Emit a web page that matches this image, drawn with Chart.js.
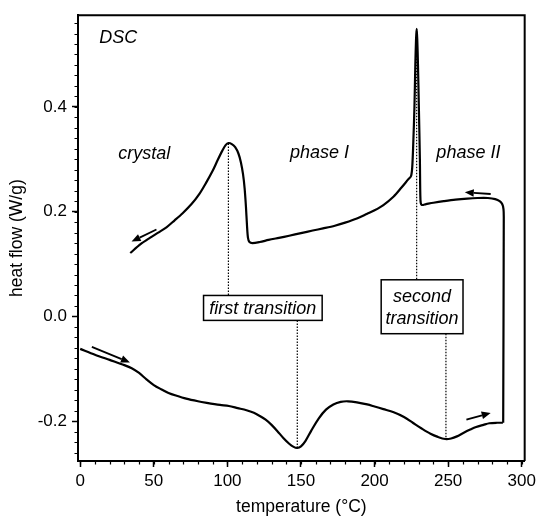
<!DOCTYPE html>
<html><head><meta charset="utf-8">
<script src="https://cdn.jsdelivr.net/npm/chart.js@4.4.0/dist/chart.umd.min.js"></script>
<style>html,body{margin:0;padding:0;background:#fff}#wrap{width:540px;height:516px}</style>
</head><body><div id="wrap"><canvas id="c" width="540" height="516"></canvas></div>
<script>
// heating run (°C, W/g)
const heatT = [0,10,20,30,35,40,45,50,55,60,65,72,80,86,95,101,107,113,118,122,126,130,134,138,142,145,147.5,150,153,157,162,167,172,177,182,188,195,200,206,213,220,226,232,238,243,248,252,256,260,265,269,274,278,283,287.2];
const heatF = [-0.062,-0.073,-0.083,-0.093,-0.099,-0.108,-0.120,-0.131,-0.139,-0.146,-0.151,-0.157,-0.162,-0.165,-0.169,-0.171,-0.175,-0.179,-0.184,-0.190,-0.197,-0.207,-0.219,-0.232,-0.243,-0.249,-0.251,-0.248,-0.238,-0.218,-0.195,-0.178,-0.168,-0.163,-0.162,-0.164,-0.168,-0.172,-0.177,-0.183,-0.192,-0.203,-0.214,-0.224,-0.230,-0.234,-0.233,-0.229,-0.223,-0.216,-0.211,-0.207,-0.204,-0.203,-0.203];
// cooling run (°C, W/g)
const coolT = [287.4,287.8,287.6,286.8,285,282,277,270,263,255,247,240,235,232,231.2,230.8,230.1,229.5,229.0,228.6,228.2,227.7,227.1,226.3,225.6,224.8,223,218,213,206,200,195,188,180,173,165,158,150,142,135,128,122,117,115,114,113.3,112.6,111.7,110.6,109.2,107.5,105.3,103,100.8,98.8,96.5,93.5,90,85.5,81,75.5,69.6,64,58.6,53,47.3,41,34];
const coolF = [-0.203,0.19,0.205,0.214,0.220,0.224,0.226,0.226,0.225,0.223,0.220,0.217,0.2145,0.213,0.222,0.30,0.40,0.48,0.53,0.549,0.53,0.48,0.40,0.33,0.285,0.268,0.262,0.245,0.229,0.2125,0.2025,0.196,0.187,0.179,0.173,0.168,0.164,0.159,0.154,0.150,0.146,0.142,0.140,0.142,0.150,0.175,0.21,0.245,0.272,0.294,0.311,0.323,0.329,0.331,0.327,0.316,0.299,0.278,0.255,0.234,0.214,0.197,0.183,0.170,0.160,0.150,0.138,0.121];
// axis ticks
const xTicks = [0,50,100,150,200,250,300];
const xMinorTicks = [0,10,20,30,40,50,60,70,80,90,100,110,120,130,140,150,160,170,180,190,200,210,220,230,240,250,260,270,280,290,300];
const yTicks = [-0.2,0,0.2,0.4];
const yMinorTicks = [-0.26,-0.24,-0.22,-0.2,-0.18,-0.16,-0.14,-0.12,-0.1,-0.08,-0.06,-0.04,-0.02,0,0.02,0.04,0.06,0.08,0.1,0.12,0.14,0.16,0.18,0.2,0.22,0.24,0.26,0.28,0.3,0.32,0.34,0.36,0.38,0.4,0.42,0.44,0.46,0.48,0.5,0.52,0.54,0.56];
// dotted drop lines at transitions
const dropX = [100.7,147.5,228.6,248.5];
const dropTop = [0.33,-0.0076,0.549,-0.033];
const dropBottom = [0.040,-0.251,0.0699,-0.234];
// free labels
const labelText = ['DSC','crystal','phase I','phase II'];
const labelX = [13,25.9,142.6,242];
const labelY = [0.522,0.300,0.303,0.303];
// boxed labels
const boxLines = [['first transition'],['second','transition']];
const boxX1 = [83.8,204.5], boxX2 = [164.4,260.1];
const boxY1 = [0.040,0.0699], boxY2 = [-0.0076,-0.033];
// arrows
const arrowX1 = [7.9,51.8,278.9,262.4], arrowY1 = [-0.058,0.166,0.2337,-0.1968];
const arrowX2 = [33.8,34.9,261.3,278.9], arrowY2 = [-0.088,0.143,0.2368,-0.1842];

const FAM = "'Liberation Sans', Arial, Helvetica, sans-serif";
const pts = (xs, ys) => xs.map((x,i)=>({x:x, y:ys[i]}));

const decor = {
  id:'decor',
  afterDatasetsDraw(chart){
    const c = chart.ctx, xs = chart.scales.x, ys = chart.scales.y, a = chart.chartArea;
    c.save();
    // frame top/right
    c.strokeStyle='#000'; c.lineWidth=2;
    c.beginPath(); c.moveTo(a.left, a.top); c.lineTo(a.right, a.top); c.lineTo(a.right, a.bottom); c.stroke();
    // minor ticks
    c.lineWidth=1.2;
    c.beginPath();
    xMinorTicks.forEach(v=>{const p=Math.round(xs.getPixelForValue(v))+0.5; c.moveTo(p,a.bottom); c.lineTo(p,a.bottom+3.5);});
    yMinorTicks.forEach(v=>{const p=Math.round(ys.getPixelForValue(v))+0.5; c.moveTo(a.left,p); c.lineTo(a.left-3.5,p);});
    c.stroke();
    // labels
    c.fillStyle='#000';
    c.font='italic 18px '+FAM;
    c.textBaseline='alphabetic'; c.textAlign='left';
    labelText.forEach((t,i)=>c.fillText(t, xs.getPixelForValue(labelX[i]), ys.getPixelForValue(labelY[i])));
    // boxes
    boxLines.forEach((lines,i)=>{
      const x1=xs.getPixelForValue(boxX1[i]), x2=xs.getPixelForValue(boxX2[i]);
      const y1=ys.getPixelForValue(boxY1[i]), y2=ys.getPixelForValue(boxY2[i]);
      c.fillStyle='#fff'; c.fillRect(x1,y1,x2-x1,y2-y1);
      c.strokeStyle='#000'; c.lineWidth=1.5; c.strokeRect(x1,y1,x2-x1,y2-y1);
      c.fillStyle='#000'; c.textAlign='center'; c.textBaseline='middle';
      const cx=(x1+x2)/2, cy=(y1+y2)/2, lh=22.5;
      lines.forEach((t,j)=>c.fillText(t, cx, cy+(j-(lines.length-1)/2)*lh+1));
    });
    // arrows
    arrowX1.forEach((_,i)=>{
      const px1=xs.getPixelForValue(arrowX1[i]), py1=ys.getPixelForValue(arrowY1[i]);
      const px2=xs.getPixelForValue(arrowX2[i]), py2=ys.getPixelForValue(arrowY2[i]);
      const ang=Math.atan2(py2-py1,px2-px1), hl=9, hw=3.8;
      const bx=px2-hl*Math.cos(ang), by=py2-hl*Math.sin(ang);
      c.strokeStyle='#000'; c.lineWidth=1.8;
      c.beginPath(); c.moveTo(px1,py1); c.lineTo(bx,by); c.stroke();
      c.beginPath(); c.moveTo(px2,py2);
      c.lineTo(bx+hw*Math.sin(ang), by-hw*Math.cos(ang));
      c.lineTo(bx-hw*Math.sin(ang), by+hw*Math.cos(ang));
      c.closePath(); c.fillStyle='#000'; c.fill();
    });
    c.restore();
  }
};

const datasets = [
  {data:pts(heatT,heatF), borderColor:'#000', borderWidth:2.2, pointRadius:0, tension:0.3, fill:false},
  {data:pts(coolT,coolF), borderColor:'#000', borderWidth:2.2, pointRadius:0, tension:0.3, fill:false}
];
dropX.forEach((x,i)=>datasets.push({data:[{x:x,y:dropTop[i]},{x:x,y:dropBottom[i]}], borderColor:'#000', borderWidth:1.2, borderDash:[1.5,1.5], pointRadius:0, fill:false, order:1}));

new Chart(document.getElementById('c'), {
  type:'line',
  data:{datasets:datasets},
  options:{
    responsive:false, animation:false, devicePixelRatio:1,
    layout:{padding:{top:14,right:13,left:0,bottom:0}},
    plugins:{legend:{display:false}, tooltip:{enabled:false}},
    scales:{
      x:{type:'linear', min:-1.5, max:302,
        afterFit(s){s.height=55;},
        afterBuildTicks(s){s.ticks=xTicks.map(v=>({value:v}));},
        ticks:{font:{family:FAM,size:17}, color:'#000', padding:4, maxRotation:0, autoSkip:false, callback:v=>String(v)},
        grid:{drawOnChartArea:false, tickLength:6, tickWidth:1.5, tickColor:'#000'},
        border:{display:true, color:'#000', width:2},
        title:{display:true, text:'temperature (°C)', font:{family:FAM,size:17.5,lineHeight:1}, color:'#000', padding:{top:0,bottom:0}}
      },
      y:{type:'linear', min:-0.276, max:0.575,
        afterFit(s){s.width=78;},
        afterBuildTicks(s){s.ticks=yTicks.map(v=>({value:v}));},
        ticks:{font:{family:FAM,size:17}, color:'#000', padding:5, autoSkip:false, callback:v=>v.toFixed(1)},
        grid:{drawOnChartArea:false, tickLength:6, tickWidth:1.5, tickColor:'#000'},
        border:{display:true, color:'#000', width:2},
        title:{display:true, text:'heat flow (W/g)', font:{family:FAM,size:17.5}, color:'#000', padding:{top:7,bottom:0}}
      }
    }
  },
  plugins:[decor]
});
</script></body></html>
